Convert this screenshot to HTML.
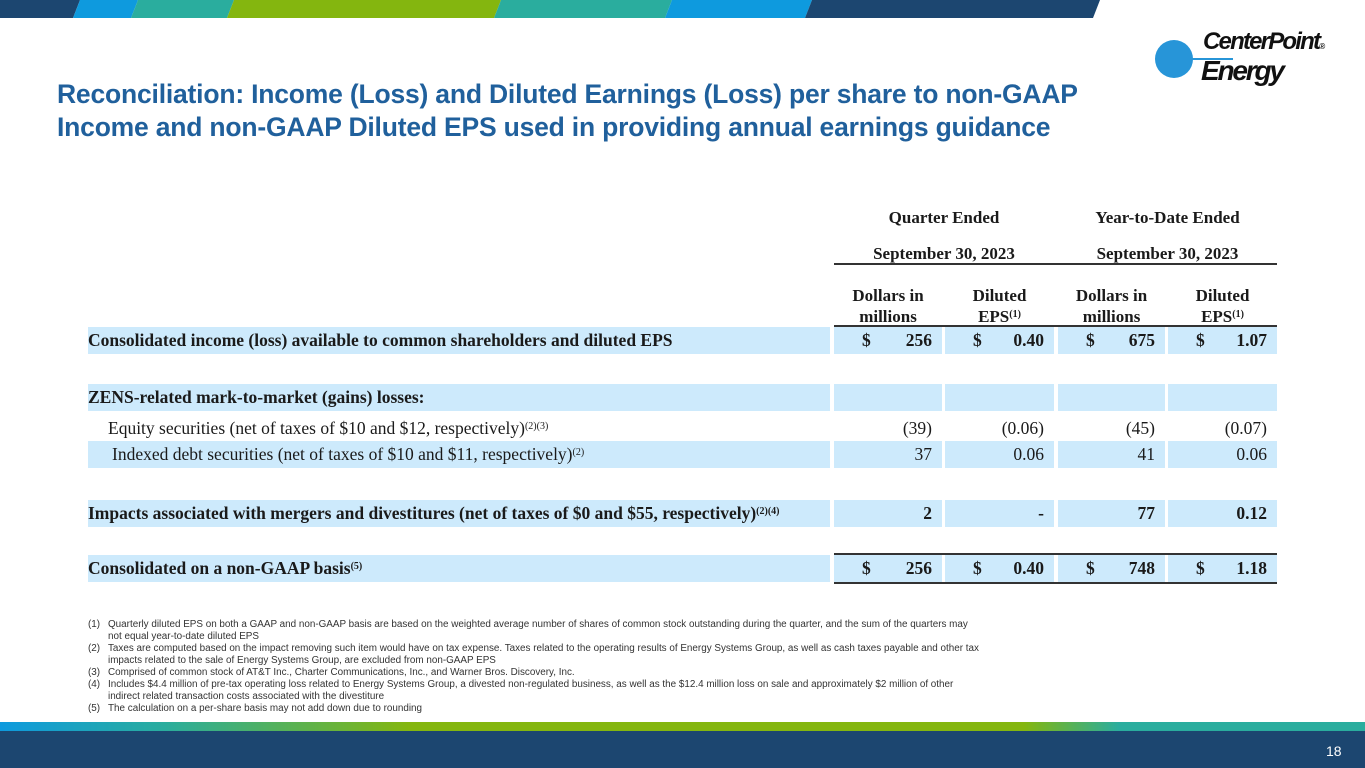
<!DOCTYPE html>
<html><head><meta charset="utf-8">
<style>
*{margin:0;padding:0;box-sizing:border-box}
body{width:1365px;height:768px;position:relative;background:#fff;overflow:hidden;font-family:"Liberation Sans",sans-serif}
.abs{position:absolute}
.t{font-family:"Liberation Serif",serif;font-size:17.5px;color:#1a1a1a;white-space:nowrap}
.h{font-size:17px}
.b{font-weight:bold}
.bg{position:absolute;background:#cdeafc}
.r{text-align:right}
.c{text-align:center}
.fn{position:absolute;left:88px;font-size:9.9px;color:#333;white-space:nowrap}
.fn span{display:inline-block;width:20px}
sup{font-size:10px;vertical-align:5px;line-height:0}
</style></head><body>
<svg class="abs" style="left:0;top:0" width="1365" height="19">
<polygon points="0,0 80,0 73,18 0,18" fill="#1c4670"/>
<polygon points="80,0 138,0 131,18 73,18" fill="#0e9ade"/>
<polygon points="138,0 234,0 227,18 131,18" fill="#2aad9e"/>
<polygon points="234,0 501,0 494,18 227,18" fill="#84b60f"/>
<polygon points="501,0 672,0 665,18 494,18" fill="#2aad9e"/>
<polygon points="672,0 812,0 805,18 665,18" fill="#0e9ade"/>
<polygon points="812,0 1100,0 1093,18 805,18" fill="#1c4670"/>
</svg>
<div class="abs" style="left:1155px;top:28px;width:200px;height:66px">
<div class="abs" style="left:0;top:12px;width:38px;height:38px;border-radius:50%;background:#2795d8"></div>
<div class="abs" style="left:30px;top:30px;width:48px;height:1.5px;background:#2795d8"></div>
<div class="abs" style="left:48px;top:0px;font-size:24px;font-weight:bold;font-style:italic;letter-spacing:-1.8px;color:#111">CenterPoint<span style="font-size:8px;letter-spacing:0">®</span></div>
<div class="abs" style="left:46px;top:27px;font-size:28px;font-weight:bold;font-style:italic;letter-spacing:-2.2px;color:#111">Energy</div>
</div>
<div class="abs" style="left:57px;top:78px;font-size:26.5px;font-weight:bold;color:#20609c;line-height:33px;letter-spacing:-0.2px;white-space:nowrap">Reconciliation: Income (Loss) and Diluted Earnings (Loss) per share to non-GAAP<br>Income and non-GAAP Diluted EPS used in providing annual earnings guidance</div>

<div>
<div class="abs t h b c" style="left:834px;top:208px;width:220px">Quarter Ended</div>
<div class="abs t h b c" style="left:1058px;top:208px;width:219px">Year-to-Date Ended</div>
<div class="abs t h b c" style="left:834px;top:244px;width:220px">September 30, 2023</div>
<div class="abs t h b c" style="left:1058px;top:244px;width:219px">September 30, 2023</div>
<div class="abs" style="left:834px;top:263px;width:443px;height:2px;background:#333"></div>
<div class="abs t h b c" style="left:834px;top:285px;width:108px;line-height:21px">Dollars in<br>millions</div>
<div class="abs t h b c" style="left:945px;top:285px;width:109px;line-height:21px">Diluted<br>EPS<sup>(1)</sup></div>
<div class="abs t h b c" style="left:1058px;top:285px;width:107px;line-height:21px">Dollars in<br>millions</div>
<div class="abs t h b c" style="left:1168px;top:285px;width:109px;line-height:21px">Diluted<br>EPS<sup>(1)</sup></div>
<div class="abs" style="left:834px;top:325px;width:443px;height:2px;background:#333"></div>
<div id="rows"></div>
<div class="abs" style="left:834px;top:553px;width:443px;height:2px;background:#333"></div>
<div class="abs" style="left:834px;top:582px;width:443px;height:2px;background:#333"></div>
</div>

<div>
<div class="fn" style="top:619px"><span>(1)</span>Quarterly diluted EPS on both a GAAP and non-GAAP basis are based on the weighted average number of shares of common stock outstanding during the quarter, and the sum of the quarters may</div>
<div class="fn" style="top:631px"><span></span>not equal year-to-date diluted EPS</div>
<div class="fn" style="top:643px"><span>(2)</span>Taxes are computed based on the impact removing such item would have on tax expense. Taxes related to the operating results of Energy Systems Group, as well as cash taxes payable and other tax</div>
<div class="fn" style="top:655px"><span></span>impacts related to the sale of Energy Systems Group, are excluded from non-GAAP EPS</div>
<div class="fn" style="top:667px"><span>(3)</span>Comprised of common stock of AT&amp;T Inc., Charter Communications, Inc., and Warner Bros. Discovery, Inc.</div>
<div class="fn" style="top:679px"><span>(4)</span>Includes $4.4 million of pre-tax operating loss related to Energy Systems Group, a divested non-regulated business, as well as the $12.4 million loss on sale and approximately $2 million of other</div>
<div class="fn" style="top:691px"><span></span>indirect related transaction costs associated with the divestiture</div>
<div class="fn" style="top:703px"><span>(5)</span>The calculation on a per-share basis may not add down due to rounding</div>
</div>

<div class="abs" style="left:0;top:722px;width:1365px;height:9px;background:linear-gradient(90deg,#0e9ade 0%,#2aad9e 12%,#84b60f 30%,#84b60f 75%,#2aad9e 82%,#2aad9e 100%)"></div>
<div class="abs" style="left:0;top:731px;width:1365px;height:37px;background:#1c4670"></div>
<div class="abs" style="left:1326px;top:743px;font-size:14px;color:#fff">18</div>

<script>
const rowLabels=["Consolidated income (loss) available to common shareholders and diluted EPS","ZENS-related mark-to-market (gains) losses:","Equity securities (net of taxes of $10 and $12, respectively)<sup>(2)(3)</sup>","Indexed debt securities (net of taxes of $10 and $11, respectively)<sup>(2)</sup>","Impacts associated with mergers and divestitures (net of taxes of $0 and $55, respectively)<sup>(2)(4)</sup>","Consolidated on a non-GAAP basis<sup>(5)</sup>"];
const qDollars=["256","","(39)","37","2","256"];
const qEps=["0.40","","(0.06)","0.06","-","0.40"];
const ytdDollars=["675","","(45)","41","77","748"];
const ytdEps=["1.07","","(0.07)","0.06","0.12","1.18"];
const rowTops=[327,384,415,441,500,555];
const rowBold=[true,true,false,false,true,true];
const rowShaded=[true,true,false,true,true,true];
const rowIndent=[0,0,20,24,0,0];
const rowDollar=[true,false,false,false,false,true];
const cols=[{x:834,w:108},{x:945,w:109},{x:1058,w:107},{x:1168,w:109}];
const host=document.getElementById('rows');
function add(html,style,name){const d=document.createElement('div');d.className='abs t';d.style.cssText=style;d.innerHTML=html;


host.appendChild(d);return d;}
rowLabels.forEach((lab,i)=>{
 const top=rowTops[i];
 if(rowShaded[i]){
  const b=document.createElement('div');b.className='bg';b.style.cssText=`left:88px;top:${top}px;width:742px;height:27px`;
  
  
  host.appendChild(b);
  cols.forEach(c=>{const e=document.createElement('div');e.className='bg';e.style.cssText=`left:${c.x}px;top:${top}px;width:${c.w}px;height:27px`;
  
  
  host.appendChild(e);});
 }
 add(lab,`left:${88+rowIndent[i]}px;top:${top+3}px;${rowBold[i]?'font-weight:bold':''}`,'row-label');
 const vals=[qDollars[i],qEps[i],ytdDollars[i],ytdEps[i]];
 vals.forEach((v,j)=>{
  const c=cols[j];
  add(v,`left:${c.x}px;top:${top+3}px;width:${c.w-10}px;text-align:right;${rowBold[i]?'font-weight:bold':''}`,'cell-value');
  if(rowDollar[i]) add('$',`left:${c.x+28}px;top:${top+3}px;font-weight:bold`,'dollar-sign');
 });
});
</script>
</body></html>
